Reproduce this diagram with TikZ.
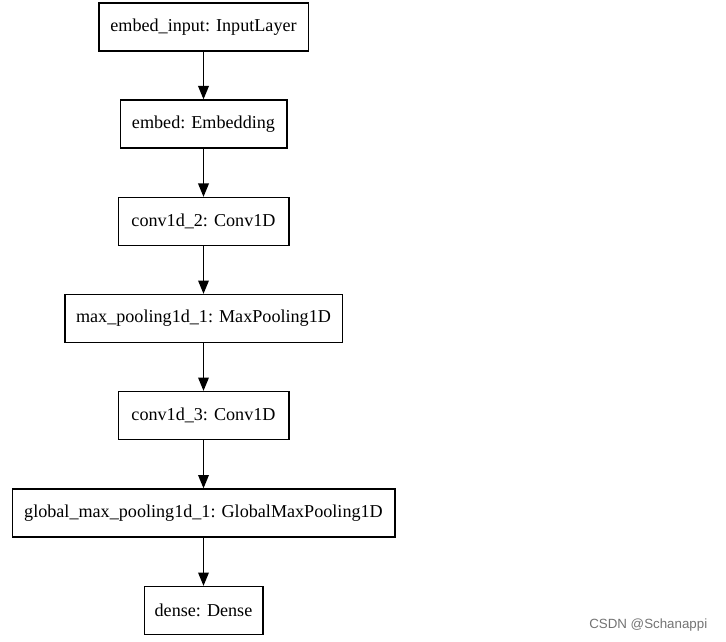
\documentclass[tikz,border=0pt]{standalone}
\usepackage{fontspec}
\setmainfont{Liberation Serif}
\usetikzlibrary{arrows.meta}
\begin{document}
\begin{tikzpicture}[x=0.75pt,y=-0.75pt,
  layer/.style={draw=black,line width=1pt,minimum height=36pt,inner sep=0pt,font=\fontsize{13.6}{16}\selectfont},
  conn/.style={line width=1pt,-{Triangle[length=10pt,width=8pt]}}]
\useasboundingbox (0,0) rectangle (726,642);
\node[layer,minimum width=157pt] (a) at (203.5,27) {embed\_input: InputLayer};
\node[layer,minimum width=125pt] (b) at (203.5,124) {embed: Embedding};
\node[layer,minimum width=128pt] (c) at (203.5,221.5) {conv1d\_2: Conv1D};
\node[layer,minimum width=208pt] (d) at (203.5,318.5) {max\_pooling1d\_1: MaxPooling1D};
\node[layer,minimum width=128pt] (e) at (203.5,415.5) {conv1d\_3: Conv1D};
\node[layer,minimum width=287pt] (f) at (203.5,513) {global\_max\_pooling1d\_1: GlobalMaxPooling1D};
\node[layer,minimum width=89pt] (g) at (203.5,610.5) {dense: Dense};
\draw[conn] (a) -- (b);
\draw[conn] (b) -- (c);
\draw[conn] (c) -- (d);
\draw[conn] (d) -- (e);
\draw[conn] (e) -- (f);
\draw[conn] (f) -- (g);
\node[font=\fontspec{Liberation Sans}\fontsize{10}{12}\selectfont,text=black!55,anchor=east] (w) at (712,625) {CSDN @Schanappi};
\end{tikzpicture}
\end{document}
